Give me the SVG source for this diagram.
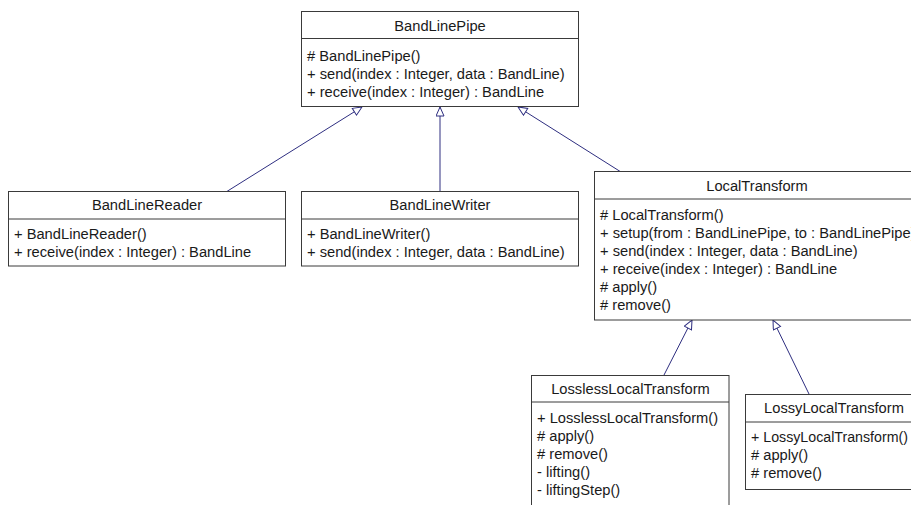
<svg xmlns="http://www.w3.org/2000/svg" width="911" height="505" viewBox="0 0 911 505">
<defs>
<marker id="gen" markerWidth="12" markerHeight="10" refX="10" refY="4.5" orient="auto" markerUnits="userSpaceOnUse">
<path d="M1,0.5 L10,4.5 L1,8.5 Z" fill="#ffffff" stroke="#2e2e80" stroke-width="1"/>
</marker>
</defs>
<style>
.box{fill:#ffffff;stroke:#3a3a3a;stroke-width:1}
.div{stroke:#3a3a3a;stroke-width:1}
text{font-family:"Liberation Sans",Arial,Helvetica,sans-serif;font-size:14.7px;fill:#1a1a1a}
.t{text-anchor:middle}
.edge{fill:none;stroke:#2e2e80;stroke-width:1;marker-end:url(#gen)}
</style>
<rect width="911" height="505" fill="#ffffff"/>
<g id="connectors">
<line class="edge" x1="226" y1="192" x2="362" y2="107"/>
<line class="edge" x1="440" y1="192" x2="440" y2="107"/>
<line class="edge" x1="621" y1="172" x2="518" y2="107"/>
<line class="edge" x1="664" y1="375" x2="692" y2="320"/>
<line class="edge" x1="809" y1="394" x2="773" y2="320"/>
</g>
<g id="BandLinePipe">
<rect class="box" x="301.5" y="11.5" width="277" height="95"/>
<line class="div" x1="301.5" y1="38.5" x2="578.5" y2="38.5"/>
<text class="t" x="440" y="31">BandLinePipe</text>
<text x="307" y="61"># BandLinePipe()</text>
<text x="307" y="79">+ send(index : Integer, data : BandLine)</text>
<text x="307" y="97">+ receive(index : Integer) : BandLine</text>
</g>
<g id="BandLineReader">
<rect class="box" x="8.5" y="191.5" width="277" height="74.5"/>
<line class="div" x1="8.5" y1="219" x2="285.5" y2="219"/>
<text class="t" x="147" y="210">BandLineReader</text>
<text x="14" y="239">+ BandLineReader()</text>
<text x="14" y="257">+ receive(index : Integer) : BandLine</text>
</g>
<g id="BandLineWriter">
<rect class="box" x="301.5" y="191.5" width="277" height="74.5"/>
<line class="div" x1="301.5" y1="219" x2="578.5" y2="219"/>
<text class="t" x="440" y="210">BandLineWriter</text>
<text x="307" y="239">+ BandLineWriter()</text>
<text x="307" y="257">+ send(index : Integer, data : BandLine)</text>
</g>
<g id="LocalTransform">
<rect class="box" x="594.5" y="171.5" width="326" height="148.5"/>
<line class="div" x1="594.5" y1="199" x2="920.5" y2="199"/>
<text class="t" x="757" y="191">LocalTransform</text>
<text x="600" y="220"># LocalTransform()</text>
<text x="600" y="238">+ setup(from : BandLinePipe, to : BandLinePipe)</text>
<text x="600" y="256">+ send(index : Integer, data : BandLine)</text>
<text x="600" y="274">+ receive(index : Integer) : BandLine</text>
<text x="600" y="292"># apply()</text>
<text x="600" y="310"># remove()</text>
</g>
<g id="LosslessLocalTransform">
<rect class="box" x="531.5" y="375.5" width="197.5" height="200"/>
<line class="div" x1="531.5" y1="402" x2="729" y2="402"/>
<text class="t" x="630.5" y="394">LosslessLocalTransform</text>
<text x="537" y="423">+ LosslessLocalTransform()</text>
<text x="537" y="441"># apply()</text>
<text x="537" y="459"># remove()</text>
<text x="537" y="477">- lifting()</text>
<text x="537" y="495">- liftingStep()</text>
</g>
<g id="LossyLocalTransform">
<rect class="box" x="745.5" y="394.5" width="177" height="95"/>
<line class="div" x1="745.5" y1="422" x2="922.5" y2="422"/>
<text class="t" x="834" y="413">LossyLocalTransform</text>
<text x="751" y="442" textLength="157" lengthAdjust="spacingAndGlyphs">+ LossyLocalTransform()</text>
<text x="751" y="460"># apply()</text>
<text x="751" y="478"># remove()</text>
</g>
</svg>
